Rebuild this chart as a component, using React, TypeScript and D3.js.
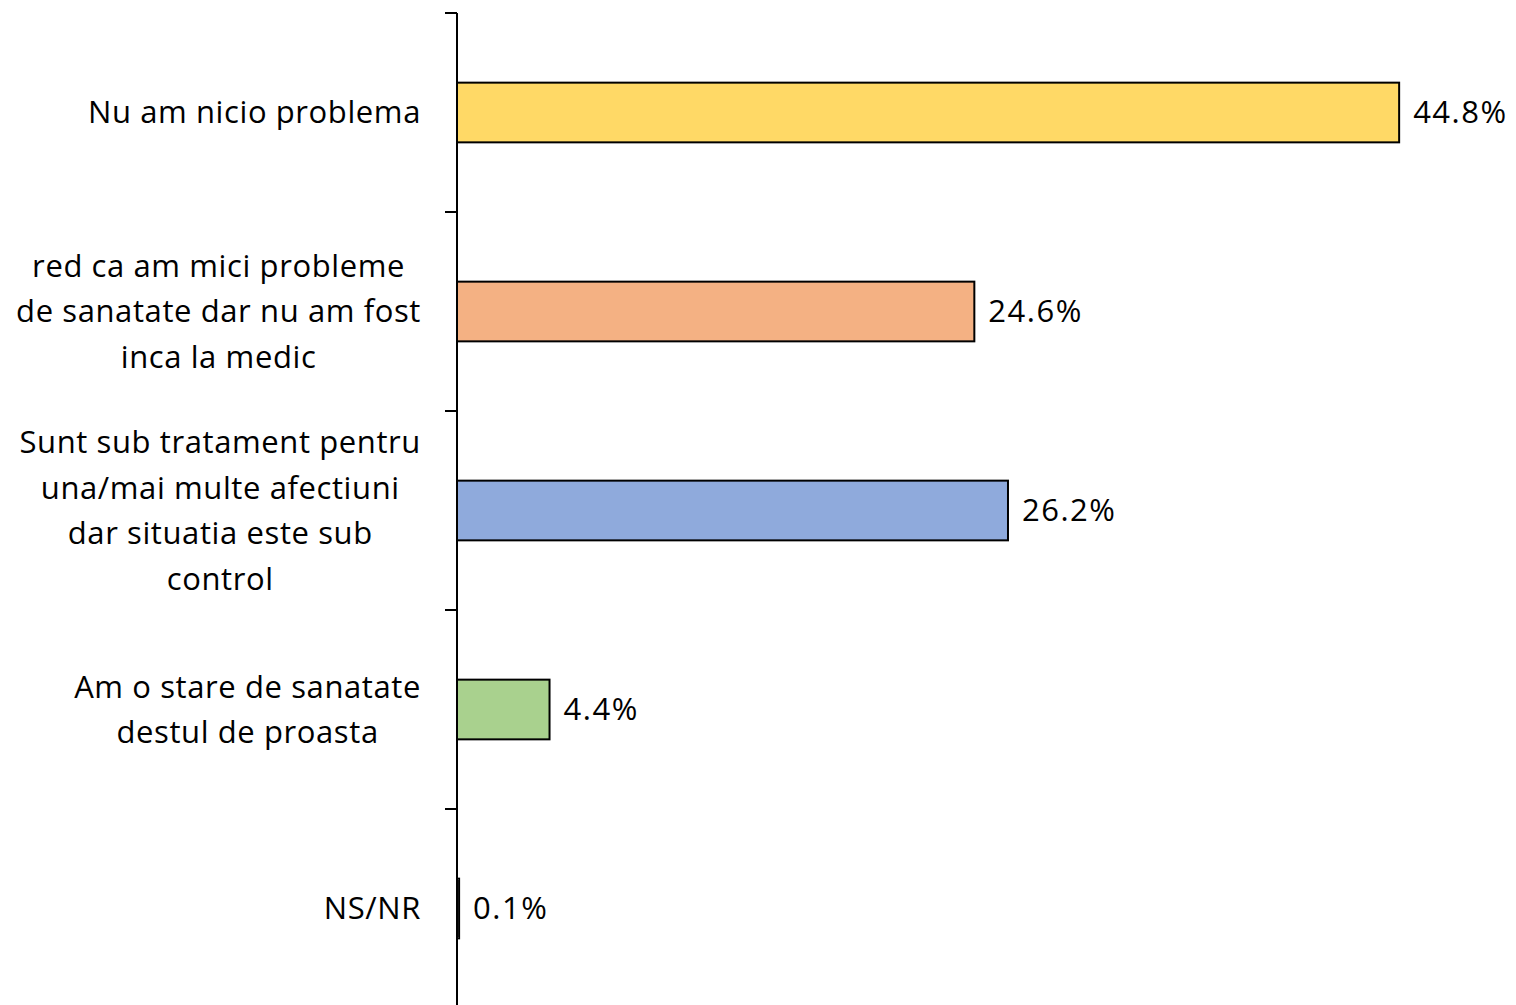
import React, { useEffect, useRef } from "react";
import * as d3 from "d3";

const categories: string[][] = [
  ["Nu am nicio problema"],
  ["red ca am mici probleme", "de sanatate dar nu am fost", "inca la medic"],
  ["Sunt sub tratament pentru", "una/mai multe afectiuni", "dar situatia este sub", "control"],
  ["Am o stare de sanatate", "destul de proasta"],
  ["NS/NR"],
];
const values: number[] = [44.8, 24.6, 26.2, 4.4, 0.1];
const valueLabels: string[] = ["44.8%", "24.6%", "26.2%", "4.4%", "0.1%"];
const colors: string[] = ["#FFD966", "#F4B183", "#8FAADC", "#A9D18E", "#A5A5A5"];

const W = 1516;
const H = 1005;
const FONT = "'Open Sans', 'Noto Sans', sans-serif";
const FS = 31;

export default function App() {
  const ref = useRef<SVGSVGElement | null>(null);

  useEffect(() => {
    const svg = d3.select(ref.current);
    svg.selectAll("*").remove();

    const axisX = 457;
    const top = 13;
    const bottom = 1008;
    const x = d3.scaleLinear().domain([0, 50]).range([axisX, axisX + 1051.5]);
    const y = d3
      .scaleBand<number>()
      .domain(values.map((_, i) => i))
      .range([top, bottom])
      .paddingInner(0.7)
      .paddingOuter(0.35);

    const step = y.step();
    const bandTop = (i: number) => top + i * step;

    svg
      .append("g")
      .selectAll("rect")
      .data(values)
      .join("rect")
      .attr("x", x(0))
      .attr("y", (_, i) => y(i)!)
      .attr("width", (d) => x(d) - x(0))
      .attr("height", y.bandwidth())
      .attr("fill", (_, i) => colors[i])
      .attr("stroke", "#000")
      .attr("stroke-width", 2);

    svg
      .append("line")
      .attr("x1", axisX)
      .attr("x2", axisX)
      .attr("y1", top)
      .attr("y2", bottom)
      .attr("stroke", "#000")
      .attr("stroke-width", 2);

    const tickYs = d3.range(values.length + 1).map((i) => bandTop(i));
    svg
      .append("g")
      .selectAll("line")
      .data(tickYs)
      .join("line")
      .attr("x1", axisX - 12)
      .attr("x2", axisX)
      .attr("y1", (d) => d)
      .attr("y2", (d) => d)
      .attr("stroke", "#000")
      .attr("stroke-width", 2);

    svg
      .append("g")
      .selectAll("text")
      .data(values)
      .join("text")
      .attr("x", (d) => x(d) + 14)
      .attr("y", (_, i) => y(i)! + y.bandwidth() / 2)
      .attr("dy", "0.35em")
      .attr("font-family", FONT)
      .attr("font-size", FS)
      .attr("letter-spacing", 1.5)
      .attr("fill", "#000")
      .text((_, i) => valueLabels[i]);

    const lineH = 45.5;
    const rightEdge = 421;
    categories.forEach((lines, i) => {
      const cy = y(i)! + y.bandwidth() / 2;
      const g = svg.append("g");
      const texts = lines.map((ln, j) =>
        g
          .append("text")
          .attr("y", cy + (j - (lines.length - 1) / 2) * lineH)
          .attr("dy", "0.35em")
          .attr("text-anchor", "middle")
          .attr("font-family", FONT)
          .attr("font-size", FS)
          .attr("letter-spacing", 0.6)
          .attr("fill", "#000")
          .text(ln)
      );
      const maxW = d3.max(texts, (t) => (t.node() as SVGTextElement).getComputedTextLength()) || 0;
      const cx = rightEdge - maxW / 2;
      texts.forEach((t) => t.attr("x", cx));
    });
  }, []);

  return (
    <svg
      ref={ref}
      width={W}
      height={H}
      style={{ position: "absolute", left: 0, top: 0, background: "#fff" }}
    />
  );
}
